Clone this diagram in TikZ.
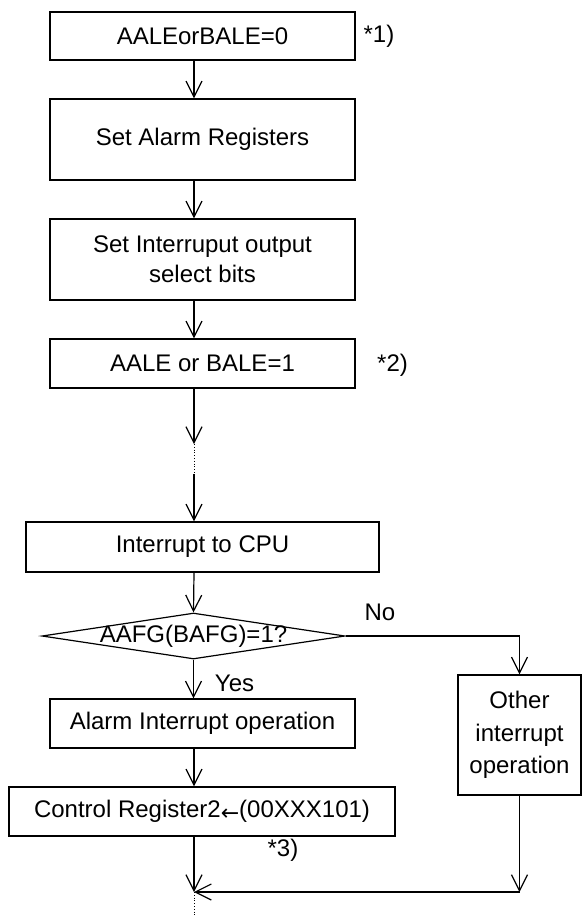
\documentclass[tikz,border=0pt]{standalone}
\usepackage{fontspec}
\setmainfont{Liberation Sans}
\newfontfamily\arrowfont{DejaVu Sans}
\usetikzlibrary{arrows.meta,shapes.geometric}
\tikzset{
  box/.style={draw, line width=0.6pt, inner sep=0pt, align=center, font=\fontsize{12}{15}\selectfont},
  lbl/.style={inner sep=0pt, font=\fontsize{12}{15}\selectfont},
  arr/.style={line width=0.6pt, -{Straight Barb[length=8pt,width=8pt,line width=0.6pt]}},
  plain/.style={line width=0.6pt},
  dots/.style={line width=0.4pt, densely dotted}
}
\begin{document}
\begin{tikzpicture}[x=0.5pt,y=-0.5pt]
\useasboundingbox (0,0) rectangle (582,916);
\coordinate (ax) at (194,0);
% boxes
\node[box, minimum width=152.5pt, minimum height=24pt] (b1) at (202.5,36) {AALEorBALE=0};
\node[box, minimum width=152.5pt, minimum height=40.5pt] (b2) at (202.5,139.5) {Set Alarm Registers};
\node[box, minimum width=152.5pt, minimum height=40.5pt] (b3) at (202.5,259.5) {Set Interruput output\\select bits};
\node[box, minimum width=152.5pt, minimum height=24.5pt] (b4) at (202.5,363.5) {AALE or BALE=1};
\node[box, minimum width=176.5pt, minimum height=25pt] (b5) at (202.5,547) {Interrupt to CPU};
\node[diamond, draw, line width=0.6pt, inner sep=0pt, minimum width=151.5pt, minimum height=23pt, font=\fontsize{12}{15}\selectfont] (d) at (193.5,636) {\makebox[0pt]{AAFG(BAFG)=1?}};
\node[box, minimum width=152.5pt, minimum height=24.5pt] (b6) at (202.5,723.5) {Alarm Interrupt operation};
\node[box, minimum width=193pt, minimum height=24.5pt] (b7) at (202,811.5) {Control Register2\raisebox{-1.5pt}{\arrowfont\fontsize{11}{13}\selectfont ←}(00XXX101)};
\node[box, minimum width=61.5pt, minimum height=60pt, font=\fontsize{12}{16.25}\selectfont] (o) at (519.5,735) {Other\\interrupt\\operation};
% labels
\node[lbl] (n1) at (379,36) {*1)};
\node[lbl] (n2) at (392.5,365) {*2)};
\node[lbl] (no) at (380,612) {No};
\node[lbl] (yes) at (234.5,683) {Yes};
\node[lbl] (n3) at (283,850) {*3)};
% helper coordinates
\coordinate (c1) at (194,444);
\coordinate (c2) at (194,474);
\coordinate (m) at (194,892);
\coordinate (e) at (194,915);
% connectors
\draw[arr] (b1.south -| ax) -- (b2.north -| ax);
\draw[arr] (b2.south -| ax) -- (b3.north -| ax);
\draw[arr] (b3.south -| ax) -- (b4.north -| ax);
\draw[arr] (b4.south -| ax) -- (c1);
\draw[dots] (c1) -- (c2);
\draw[arr] (c2) -- (b5.north -| ax);
\draw[arr] (b5.south -| ax) -- (d.north);
\draw[arr] (d.south) -- (d.south |- b6.north);
\draw[arr] (d.east) -| (o.north);
\draw[arr] (b6.south -| ax) -- (b7.north -| ax);
\draw[arr] (b7.south -| ax) -- (m);
\draw[arr] (o.south) -- (o.south |- m);
\draw[arr] (o.south |- m) -- (m);
\draw[dots] (m) -- (e);
\end{tikzpicture}
\end{document}
